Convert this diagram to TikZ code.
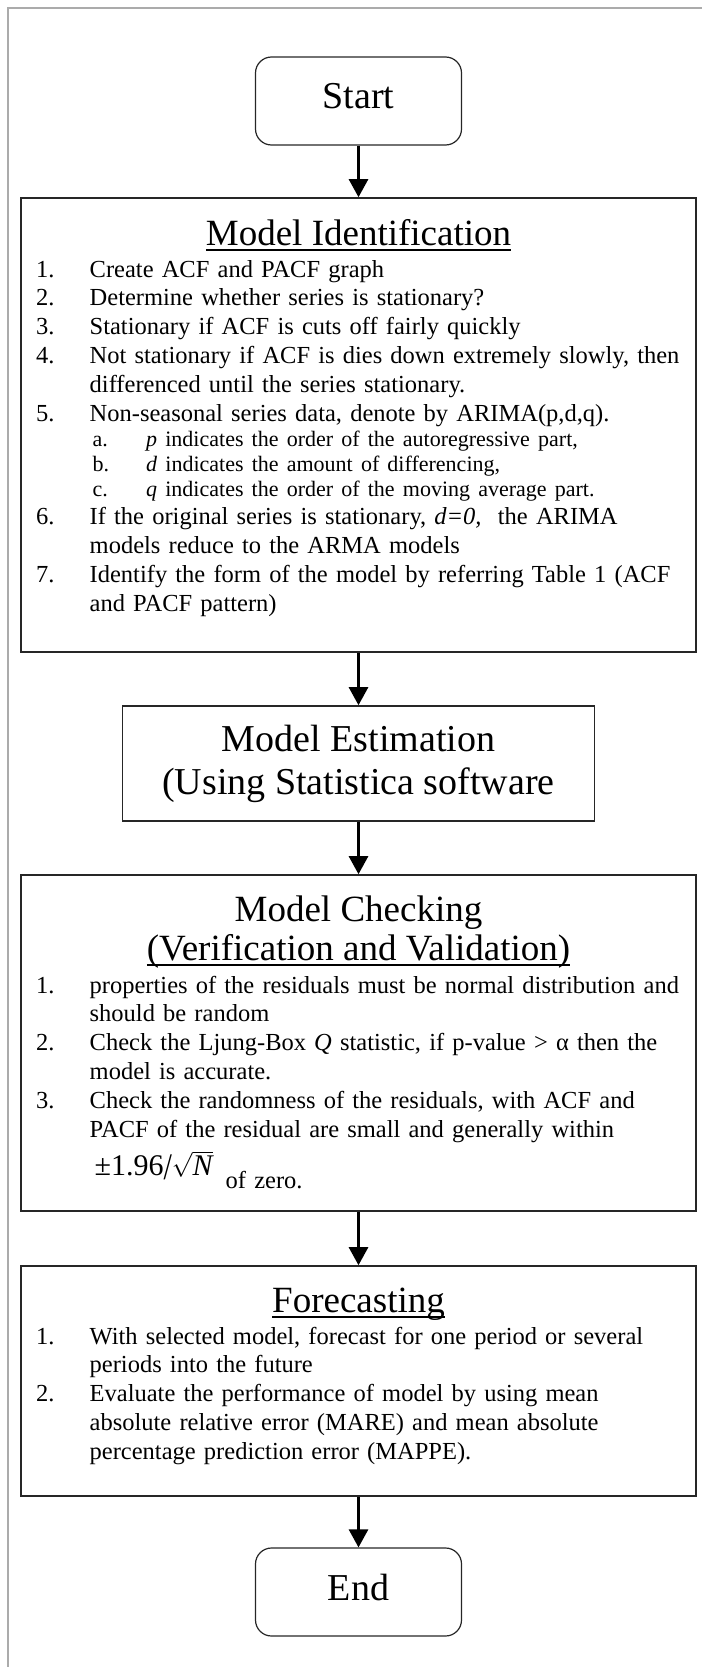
\documentclass[tikz,border=0pt]{standalone}
\usepackage{fontspec}
\setmainfont{Liberation Serif}
\usetikzlibrary{arrows.meta}

\newlength{\numwd}
\setlength{\numwd}{53.5pt}
\newcommand{\stepline}[2]{\hangindent=\numwd\hangafter=1\noindent\makebox[\numwd][l]{#1}#2\par}
\newcommand{\substep}[2]{{\fontsize{22}{25}\selectfont\noindent\hspace*{56.5pt}\makebox[\numwd][l]{#1}#2\par}}
\newcommand{\ulhead}[1]{\setbox0=\hbox{#1}\rlap{\rule[-5.5pt]{\wd0}{1.5pt}}\box0}

\tikzset{
  termbox/.style={draw=black!85, line width=1.2pt, rounded corners=16pt,
    minimum width=206pt, minimum height=88pt, inner sep=0pt, text depth=9.5pt,
    font=\fontsize{38}{44}\selectfont},
  stagebox/.style={draw=black!85, line width=1.6pt, inner sep=0pt},
  headtext/.style={anchor=base, inner sep=0pt, font=\fontsize{37}{43}\selectfont},
  listtext/.style={anchor=base west, inner sep=0pt, text width=660pt, align=left,
    font=\fontsize{24.5}{28.8}\selectfont},
  flow/.style={line width=2.7pt, -{Triangle[length=18pt,width=19pt]}},
}

\begin{document}
\begin{tikzpicture}[x=1pt,y=-1pt]
  \useasboundingbox (0,0) rectangle (702,1667);
  % grey frame round the page
  \draw[black!33, line width=2.7pt] (8,1667) -- (8,8) -- (702,8);

  \draw
    (358.5,101) node[termbox] (start) {Start}
    (358.5,425) node[stagebox, minimum width=675pt, minimum height=454pt] (ident) {}
    (358.5,763.5) node[stagebox, minimum width=472pt, minimum height=115pt,
      align=center, font=\fontsize{38}{43}\selectfont] (estim)
      {Model Estimation\\(Using Statistica software}
    (358.5,1043) node[stagebox, minimum width=675pt, minimum height=336pt] (check) {}
    (358.5,1381) node[stagebox, minimum width=675pt, minimum height=230pt] (fore) {}
    (358.5,1592) node[termbox] (finish) {End};

  % model identification
  \node[headtext] (identHead) at (358.5,245) {\ulhead{Model Identification}};
  \node[listtext] (identList) at (36,277) {%
    \stepline{1.}{Create ACF and PACF graph}
    \stepline{2.}{Determine whether series is stationary?}
    \stepline{3.}{Stationary if ACF is cuts off fairly quickly}
    \stepline{4.}{Not stationary if ACF is dies down extremely slowly, then\newline
      differenced until the series stationary.}
    \stepline{5.}{Non-seasonal series data, denote by ARIMA(p,d,q).}
    \substep{a.}{\textit{p} indicates the order of the autoregressive part,}
    \substep{b.}{\textit{d} indicates the amount of differencing,}
    \substep{c.}{\textit{q} indicates the order of the moving average part.}
    \stepline{6.}{If the original series is stationary, \textit{d=0,}\ \ the ARIMA\newline
      models reduce to the ARMA models}
    \stepline{7.}{Identify the form of the model by referring Table 1 (ACF\newline
      and PACF pattern)}};

  % model checking
  \node[headtext] (checkHead) at (358.5,921) {Model Checking};
  \node[headtext] (checkSub) at (358.5,960) {\ulhead{(Verification and Validation)}};
  \node[listtext] (checkList) at (36,993) {%
    \stepline{1.}{properties of the residuals must be normal distribution and\newline
      should be random}
    \stepline{2.}{Check the Ljung-Box \textit{Q} statistic, if p-value > α then the\newline
      model is accurate.}
    \stepline{3.}{Check the randomness of the residuals, with ACF and\newline
      PACF of the residual are small and generally within\vspace{8pt}\newline
      \hspace*{5pt}{\fontsize{30}{30}\selectfont ±1.96\raisebox{-4pt}{\scalebox{1}[1.25]{/}}$\sqrt{\mbox{\itshape N}}$}\hspace{13pt}\raisebox{-13pt}{of zero.}}};

  % forecasting
  \node[headtext] (foreHead) at (358.5,1312) {\ulhead{Forecasting}};
  \node[listtext] (foreList) at (36,1344) {%
    \stepline{1.}{With selected model, forecast for one period or several\newline
      periods into the future}
    \stepline{2.}{Evaluate the performance of model by using mean\newline
      absolute relative error (MARE) and mean absolute\newline
      percentage prediction error (MAPPE).}};

  \begin{scope}[flow]
    \draw (start) to (ident);
    \draw (ident) to (estim);
    \draw (estim) to (check);
    \draw (check) to (fore);
    \draw (fore) to (finish);
  \end{scope}
\end{tikzpicture}
\end{document}
